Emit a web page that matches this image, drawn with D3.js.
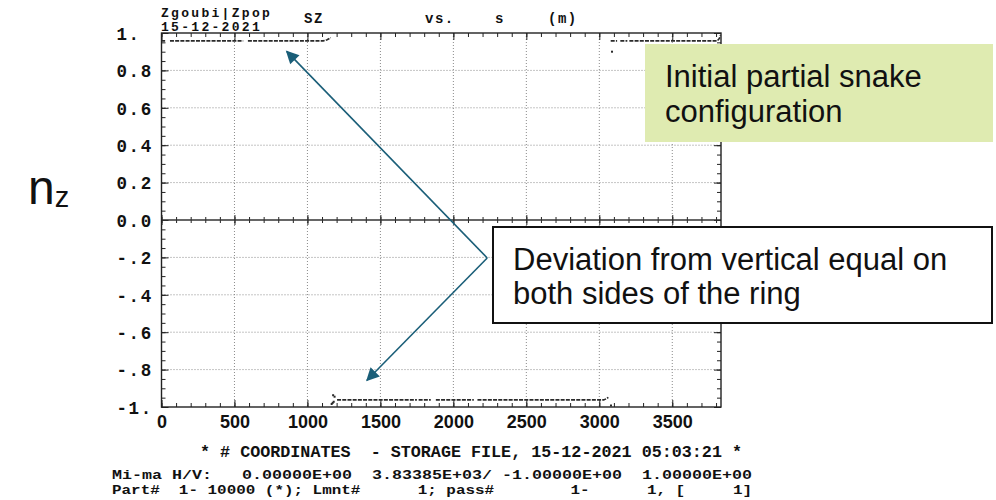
<!DOCTYPE html>
<html>
<head>
<meta charset="utf-8">
<script src="https://cdn.jsdelivr.net/npm/d3@7"></script>
<style>
  body { margin: 0; background: #fff; }
  svg { display: block; }
  .mono { font-family: "Liberation Mono", "DejaVu Sans Mono", monospace; font-weight: bold; fill: #111; }
  .sans { font-family: "Liberation Sans", Arial, sans-serif; }
</style>
</head>
<body>
<svg id="chart" width="996" height="500"></svg>
<script>
// Vertical spin component n_z versus distance s (m) along the ring.
// Runs of stored points; null breaks a run where the record has a gap.
const topLeftS   = [2, 25, null, 58, 560, null, 592, 1108, 1135, 1160];
const topLeftNz  = [0.958, 0.958, null, 0.958, 0.958, null, 0.958, 0.958, 0.964, 0.975];
const topRightS  = [3078, 3122, null, 3144, 3192, null, 3206, 3808, 3822, 3830];
const topRightNz = [0.958, 0.958, null, 0.958, 0.958, null, 0.958, 0.958, 0.970, 0.988];
const bottomS    = [1203, 1750, null, 1762, 1845, null, 1880, 2140, null, 2165, 3030, 3048, 3062];
const bottomNz   = [-0.962, -0.962, null, -0.962, -0.962, null, -0.962, -0.962, null, -0.962, -0.962, -0.956, -0.948];
// Isolated stored points
const dotS  = [3087, 1166, 1173, 1180, 1176, 1186, 3080];
const dotNz = [0.900, -0.984, -0.978, -0.972, -0.937, -0.945, -0.992];

// Axes
const sMax = 3833.85;
const xMajorTicks = [0, 500, 1000, 1500, 2000, 2500, 3000, 3500];
const yMajorTicks = [1, 0.8, 0.6, 0.4, 0.2, 0, -0.2, -0.4, -0.6, -0.8, -1];
const yTickLabels = ["1.", "0.8", "0.6", "0.4", "0.2", "0.0", "-.2", "-.4", "-.6", "-.8", "-1."];

// Header / footer text of the storage-file plot
const headerLeft  = ["Zgoubi|Zpop", "15-12-2021"];
const headerTitle = [["SZ", 304], ["vs.", 425], ["s", 495], ["(m)", 548]];
const footerTitle = "* # COORDINATES  - STORAGE FILE, 15-12-2021 05:03:21 *";
const footerInfo  = [
  "Mi-ma H/V:   0.00000E+00  3.83385E+03/ -1.00000E+00  1.00000E+00",
  "Part#  1- 10000 (*); Lmnt#      1; pass#        1-      1, [     1]"
];

// Annotations (positions in data units: s, n_z)
const noteGreen   = ["Initial partial snake", "configuration"];
const noteCallout = ["Deviation from vertical equal on", "both sides of the ring"];
const arrowFrom   = [2232, -0.203];
const arrowTips   = [[858, 0.902], [1408, -0.857]];

const svg = d3.select("#chart");
const x = d3.scaleLinear().domain([0, sMax]).range([161.5, 721]);
const y = d3.scaleLinear().domain([-1, 1]).range([407, 33]);
const [x0, x1] = x.range();
const [y0, y1] = y.range();

const minorX = d3.range(0, sMax, 100);
const minorY = d3.range(-1, 1.0001, 0.05).map(v => +v.toFixed(2));

// Dotted grid
const grid = svg.append("g").attr("stroke", "#8a8a8a").attr("stroke-width", 1).attr("stroke-dasharray", "1,2");
grid.selectAll(".gx").data(xMajorTicks.filter(d => d > 0)).join("line")
  .attr("x1", d => x(d)).attr("x2", d => x(d)).attr("y1", y1).attr("y2", y0);
grid.selectAll(".gy").data(yMajorTicks.filter(d => d !== 1 && d !== -1 && d !== 0)).join("line")
  .attr("x1", x0).attr("x2", x1).attr("y1", d => y(d)).attr("y2", d => y(d));

// Inward ticks on the four frame sides
function styleAxis(g) {
  g.select(".domain").remove();
  g.selectAll("line").attr("stroke", "#222").attr("stroke-width", 1);
  g.selectAll("text").remove();
}
const tickSets = [
  [d3.axisBottom, minorX, -4, `translate(0,${y0})`],
  [d3.axisBottom, xMajorTicks, -7, `translate(0,${y0})`],
  [d3.axisTop, minorX, -4, `translate(0,${y1})`],
  [d3.axisTop, xMajorTicks, -7, `translate(0,${y1})`],
  [d3.axisBottom, minorX, 3, `translate(0,${y(0)})`],
  [d3.axisTop, minorX, 3, `translate(0,${y(0)})`],
  [d3.axisBottom, xMajorTicks, 5, `translate(0,${y(0)})`],
  [d3.axisTop, xMajorTicks, 5, `translate(0,${y(0)})`]
];
tickSets.forEach(([ax, vals, size, tr]) => {
  svg.append("g").attr("transform", tr).call(ax(x).tickValues(vals).tickSize(size)).call(styleAxis);
});
[[d3.axisLeft, minorY, -4, `translate(${x0},0)`],
 [d3.axisLeft, yMajorTicks, -7, `translate(${x0},0)`],
 [d3.axisRight, minorY, -4, `translate(${x1},0)`],
 [d3.axisRight, yMajorTicks, -7, `translate(${x1},0)`]
].forEach(([ax, vals, size, tr]) => {
  svg.append("g").attr("transform", tr).call(ax(y).tickValues(vals).tickSize(size)).call(styleAxis);
});

// Zero line and frame
svg.append("line").attr("x1", x0).attr("x2", x1).attr("y1", y(0)).attr("y2", y(0))
  .attr("stroke", "#333").attr("stroke-width", 1.3);
svg.append("rect").attr("x", x0).attr("y", y1).attr("width", x1 - x0).attr("height", y0 - y1)
  .attr("fill", "none").attr("stroke", "#222").attr("stroke-width", 1.4);

// Tick labels
const xLab = svg.append("g").attr("transform", `translate(0,${y0})`)
  .call(d3.axisBottom(x).tickValues(xMajorTicks).tickSize(0).tickPadding(8).tickFormat(d3.format("d")));
xLab.select(".domain").remove();
xLab.selectAll("text").attr("font-size", 18).attr("font-weight", "bold")
  .attr("fill", "#111").attr("font-family", "'Liberation Sans', Arial, sans-serif");

const yLab = svg.append("g").attr("transform", `translate(${x0},0)`)
  .call(d3.axisLeft(y).tickValues(yMajorTicks).tickSize(0).tickFormat((d, i) => yTickLabels[i]));
yLab.select(".domain").remove();
yLab.selectAll("text").attr("font-size", 17.5).attr("font-weight", "bold").attr("fill", "#111")
  .attr("letter-spacing", 1.6).attr("text-anchor", "start").attr("x", -45).attr("dy", "0.36em")
  .attr("font-family", "'Liberation Mono', monospace");

// Data runs
const line = d3.line().defined(d => d[0] != null).x(d => x(d[0])).y(d => y(d[1]));
[[topLeftS, topLeftNz], [topRightS, topRightNz], [bottomS, bottomNz]].forEach(([s, nz]) => {
  svg.append("path").datum(s.map((v, i) => [v, nz[i]]))
    .attr("d", line).attr("fill", "none").attr("stroke", "#2a2a2a")
    .attr("stroke-width", 1.6).attr("stroke-dasharray", "4,1.2");
});
svg.append("g").selectAll("rect").data(dotS.map((v, i) => [v, dotNz[i]])).join("rect")
  .attr("x", d => x(d[0]) - 1).attr("y", d => y(d[1]) - 1).attr("width", 2).attr("height", 2)
  .attr("fill", "#2a2a2a");

// Header
svg.append("g").selectAll("text").data(headerLeft).join("text").attr("class", "mono")
  .attr("x", 161).attr("y", (d, i) => 16.5 + i * 14.5).attr("font-size", 13).attr("letter-spacing", 2.3)
  .text(d => d);
svg.append("g").selectAll("text").data(headerTitle).join("text").attr("class", "mono")
  .attr("x", d => d[1]).attr("y", 22.5).attr("font-size", 14).attr("letter-spacing", 1.5)
  .text(d => d[0]);

// Footer
svg.append("text").attr("class", "mono").attr("x", 200).attr("y", 457).attr("font-size", 16)
  .attr("textLength", 542).attr("lengthAdjust", "spacingAndGlyphs")
  .style("white-space", "pre").text(footerTitle);
svg.append("g").selectAll("text").data(footerInfo).join("text").attr("class", "mono")
  .attr("x", 112).attr("y", (d, i) => 478.5 + i * 15).attr("font-size", 13)
  .attr("textLength", 640).attr("lengthAdjust", "spacingAndGlyphs")
  .style("white-space", "pre").text(d => d);

// Axis title n_z
const yt = svg.append("text").attr("class", "sans").attr("x", 28).attr("y", 204).attr("fill", "#111");
yt.append("tspan").attr("font-size", 48).text("n");
yt.append("tspan").attr("font-size", 29).attr("dy", 3).text("z");

// Green note box
svg.append("rect").attr("x", 645).attr("y", 44).attr("width", 348).attr("height", 98).attr("fill", "#dfebb1");
svg.append("g").selectAll("text").data(noteGreen).join("text").attr("class", "sans")
  .attr("x", 665).attr("y", (d, i) => 87 + i * 35).attr("font-size", 31).attr("fill", "#111").text(d => d);

// Arrows
const teal = "#1a5e78";
svg.append("defs").append("marker").attr("id", "head").attr("viewBox", "0 0 10 10")
  .attr("refX", 9).attr("refY", 5).attr("markerWidth", 15).attr("markerHeight", 13)
  .attr("markerUnits", "userSpaceOnUse").attr("orient", "auto")
  .append("path").attr("d", "M0,0 L10,5 L0,10 Z").attr("fill", teal);
svg.append("g").selectAll("line").data(arrowTips).join("line")
  .attr("x1", x(arrowFrom[0])).attr("y1", y(arrowFrom[1]))
  .attr("x2", d => x(d[0])).attr("y2", d => y(d[1]))
  .attr("stroke", teal).attr("stroke-width", 1.6).attr("marker-end", "url(#head)");

// Callout box
svg.append("rect").attr("x", 493).attr("y", 227).attr("width", 499).attr("height", 96)
  .attr("fill", "#fff").attr("stroke", "#111").attr("stroke-width", 2);
svg.append("g").selectAll("text").data(noteCallout).join("text").attr("class", "sans")
  .attr("x", 513).attr("y", (d, i) => 270 + i * 34).attr("font-size", 31).attr("fill", "#111").text(d => d);
</script>
</body>
</html>
